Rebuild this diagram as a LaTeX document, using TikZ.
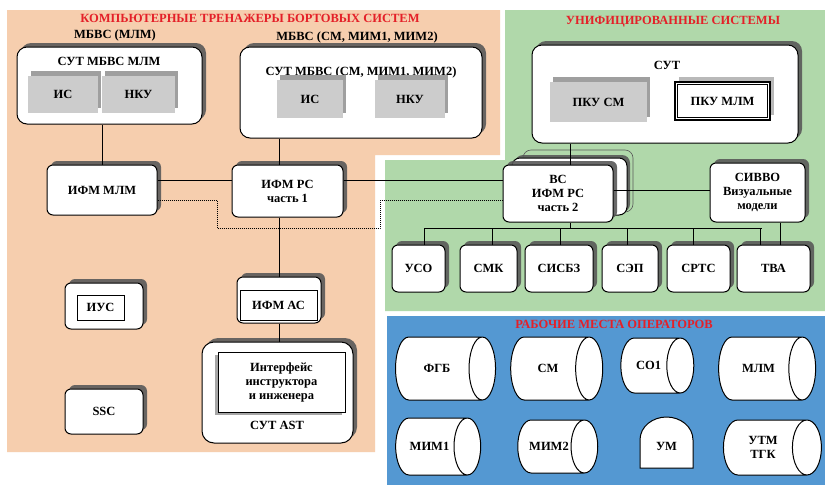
\documentclass[tikz,border=0pt]{standalone}
\usepackage{fontspec}
\setmainfont{Liberation Serif}
\usetikzlibrary{shapes.geometric,shadows,calc}
\definecolor{peach}{RGB}{246,206,174}
\definecolor{mint}{RGB}{176,216,170}
\definecolor{sky}{RGB}{84,152,210}
\definecolor{titlered}{RGB}{228,32,40}
\begin{document}
\begin{tikzpicture}[x=1pt, y=-1pt, line width=1pt,
  box node/.style={draw, rounded corners=6pt, fill=white, drop shadow={shadow xshift=4pt, shadow yshift=4pt, fill=gray!70!black, opacity=.9}},
  big/.style={rounded corners=10pt},
  grey node/.style={fill=gray!40, drop shadow={shadow xshift=3pt, shadow yshift=5pt, fill=gray!75, opacity=1}},
  frame node/.style={draw, fill=white, line width=.8pt},
  cyl node/.style={cylinder, draw, fill=white, aspect=2.6},
  title node/.style={text=titlered}]
\useasboundingbox (0,0) rectangle (825,485);
\fill[white] (0,0) rectangle (825,485);
% background areas
\fill[peach] (7,10) -- (500,10) -- (500,155) -- (375,155) -- (375,452) -- (7,452) -- cycle;
\fill[mint] (505,10) -- (825,10) -- (825,311) -- (385,311) -- (385,160) -- (505,160) -- cycle;
\fill[sky] (387,316) rectangle (825,485);
\begin{scope}[every node/.style={font=\bfseries\fontsize{12.5}{14}\selectfont, align=center, inner sep=1pt}]
\node [title node](tKTBS) at (250,18) {КОМПЬЮТЕРНЫЕ ТРЕНАЖЕРЫ БОРТОВЫХ СИСТЕМ};
\node [title node](tUS) at (673,22) {УНИФИЦИРОВАННЫЕ СИСТЕМЫ};
\node [title node](tRMO) at (614,324) {РАБОЧИЕ МЕСТА ОПЕРАТОРОВ};
\node (mbvs1) at (115,35) {МБВС (МЛМ)};
\node (mbvs2) at (357,37) {МБВС (СМ, МИМ1, МИМ2)};
% onboard systems
\node [box node, big, minimum width=185pt, minimum height=77pt](sutmlm) at (109.5,85.5) {};
\node (sutmlmT) at (109,61) {СУТ МБВС МЛМ};
\node [grey node, minimum width=70pt, minimum height=37pt](is1) at (63,94) {ИС};
\node [grey node, minimum width=73pt, minimum height=37pt](nku1) at (138.5,94) {НКУ};
\node [box node, big, minimum width=242pt, minimum height=91pt](sutsm) at (361,92.5) {};
\node (sutsmT) at (361,72) {СУТ МБВС (СМ, МИМ1, МИМ2)};
\node [grey node, minimum width=66pt, minimum height=38pt](is2) at (310,99) {ИС};
\node [grey node, minimum width=70pt, minimum height=38pt](nku2) at (410,99) {НКУ};
\node [box node, minimum width=110pt, minimum height=50pt](ifmmlm) at (102,190) {ИФМ МЛМ};
\node [box node, minimum width=111pt, minimum height=52pt](ifmrs1) at (287.5,191) {ИФМ РС\\часть 1};
\node [box node, minimum width=78pt, minimum height=46pt](ius) at (104,306) {};
\node [frame node, minimum width=47pt, minimum height=25pt](iusI) at (100.5,307.5) {ИУС};
\node [box node, minimum width=78pt, minimum height=45pt](ssc) at (104,411.5) {SSC};
\node [box node, minimum width=84pt, minimum height=46pt](ifmas) at (279,300) {};
\node [frame node, minimum width=77pt, minimum height=30pt](ifmasI) at (278.5,305) {ИФМ АС};
\node [box node, rounded corners=12pt, minimum width=151pt, minimum height=101pt](sutast) at (277.5,392.5) {};
\node [frame node, minimum width=127pt, minimum height=60pt, drop shadow={shadow xshift=-3pt, shadow yshift=-3pt, fill=gray!70, opacity=1}](instr) at (281.5,382) {Интерфейс\\инструктора\\и инженера};
\node (sutastT) at (277,425) {СУТ AST};
% unified systems
\node [box node, big, minimum width=266pt, minimum height=98pt](sut) at (665,94) {};
\node (sutT) at (667,65) {СУТ};
\node [grey node, minimum width=97pt, minimum height=40pt](pkusm) at (598.5,102) {ПКУ СМ};
\node [frame node, line width=1.2pt, minimum width=95pt, minimum height=38pt, drop shadow={shadow xshift=4pt, shadow yshift=5pt, fill=gray!55, opacity=1}](pkumlm) at (722.5,101) {ПКУ МЛМ};
\draw [line width=.5pt] ($(pkumlm.north west)+(3,3)$) rectangle ($(pkumlm.south east)+(-3,-3)$);
\draw [gray!70!black, line width=.6pt, rounded corners=8pt] (523,150) rectangle (633,212);
\draw [fill=white, rounded corners=8pt, drop shadow={shadow xshift=3pt, shadow yshift=3pt, fill=gray!70!black, opacity=.9}] (512,158) rectangle (627,215);
\node [box node, minimum width=110pt, minimum height=57pt](vs) at (558,193.5) {ВС\\ИФМ РС\\часть 2};
\node [box node, minimum width=95pt, minimum height=59pt](sivvo) at (757.5,192.5) {СИВВО\\Визуальные\\модели};
\node [box node, minimum width=53pt, minimum height=47pt](uso) at (418.5,268.5) {УСО};
\node [box node, minimum width=57pt, minimum height=47pt](smk) at (488.5,268.5) {СМК};
\node [box node, minimum width=68pt, minimum height=47pt](sisbz) at (559,268.5) {СИСБЗ};
\node [box node, minimum width=56pt, minimum height=47pt](sep) at (630,268.5) {СЭП};
\node [box node, minimum width=63pt, minimum height=47pt](srts) at (698.5,268.5) {СРТС};
\node [box node, minimum width=73pt, minimum height=47pt](tva) at (773.5,268.5) {ТВА};
% operator workplaces
\node [cyl node, minimum height=100pt, minimum width=63pt](fgb) at (437,368.5) {ФГБ};
\node [cyl node, minimum height=92pt, minimum width=63pt](cm) at (548,368.5) {СМ};
\node [cyl node, minimum height=73pt, minimum width=55pt](co1) at (648.5,365.5) {СО1};
\node [cyl node, minimum height=97pt, minimum width=63pt](mlm) at (758.5,368.5) {МЛМ};
\node [cyl node, minimum height=85pt, minimum width=57pt](mim1) at (429.5,446.5) {МИМ1};
\node [cyl node, minimum height=80pt, minimum width=53pt](mim2) at (549,446.5) {МИМ2};
\node [cyl node, aspect=1.2, minimum height=98pt, minimum width=55pt](utm) at (763,447.5) {УТМ\\ТГК};
\draw [fill=white] (640,468) -- (640,440) to[out=90,in=180] (666.5,417) to[out=0,in=90] (693,440) -- (693,468) -- cycle;
\node (um) at (666.5,446) {УМ};
\end{scope}
% links
\coordinate (linkA) at (0,180);
\coordinate (linkB) at (0,200);
\coordinate (linkC) at (0,190);
\coordinate (dotL) at (217,228);
\coordinate (dotR) at (380,228);
\coordinate (busL) at (425,228);
\coordinate (busR) at (762,228);
\coordinate (vsbus) at (570,228);
\coordinate (sivvoT) at (780,0);
\coordinate (rmo) at (0,313);
\path [draw]
    (ifmmlm.north) -- (ifmmlm.north |- sutmlm.south)
    (ifmas.north |- sutsm.south) -- (ifmas.north |- ifmrs1.north)
    (ifmas.north |- ifmrs1.south) -- (ifmas.north)
    (ifmas.south) -- (ifmas.south |- sutast.north)
    (ifmmlm.east |- linkA) -- (ifmrs1.west |- linkA)
    (ifmrs1.east |- linkA) -- (vs.west |- linkA)
    (vsbus |- sut.south) -- (vsbus |- vs.north)
    (vs.east |- linkC) -- (sivvo.west |- linkC)
    (vsbus |- vs.south) -- (vsbus)
    (busL) -- (busR)
    (sivvoT |- sivvo.south) -- (sivvoT |- tva.north);
\draw [densely dotted] (ifmmlm.east |- linkB) -| (dotL) -- (dotR) |- (vs.west |- linkB);
\foreach \n/\a/\b in {uso/6/6, smk/4/16, sisbz/1/6, sep/-3/1, srts/-5/4, tva/-13/2}
{
  \draw ($(\n.north)+(\a,0)$) -- +(0,-17);
  \draw ($(\n.south)+(\b,0)$) -- ($(\n.south)+(\b,0)$ |- rmo);
}
\end{tikzpicture}
\end{document}
